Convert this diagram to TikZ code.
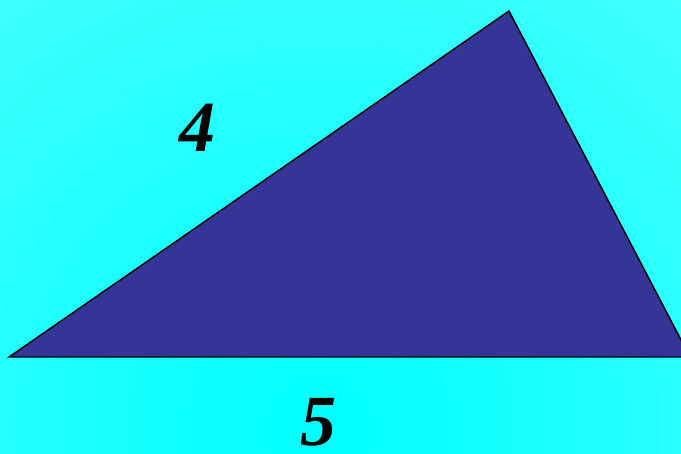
\documentclass[tikz,border=0pt]{standalone}
\usepackage{fontspec}
\setmainfont{Liberation Serif}
\definecolor{bgedge}{RGB}{95,255,255}
\definecolor{bgcore}{RGB}{0,255,255}
\definecolor{trifill}{RGB}{52,53,151}
\tikzset{
  sidelabel/.style={font=\fontsize{72}{72}\selectfont\bfseries\itshape, inner sep=0pt, text depth=0pt, anchor=base},
  tri/.style={fill=trifill, draw=black, line width=1.4pt, line join=miter}
}
\begin{document}
\begin{tikzpicture}[x=1pt,y=-1pt]
\useasboundingbox (0,0) rectangle (681,454);
\begin{scope}
\clip (0,0) rectangle (681,454);
\shade[inner color=bgcore, outer color=bgedge] (320,430) circle (820);
\coordinate (A) at (9,357);
\coordinate (B) at (509,11);
\coordinate (C) at (690,357);
\draw[tri] (A) -- (B) -- (C) -- cycle;
\end{scope}
\node[sidelabel] (four) at (197,152) {4};
\node[sidelabel] (five) at (318,446) {5};
\end{tikzpicture}
\end{document}
